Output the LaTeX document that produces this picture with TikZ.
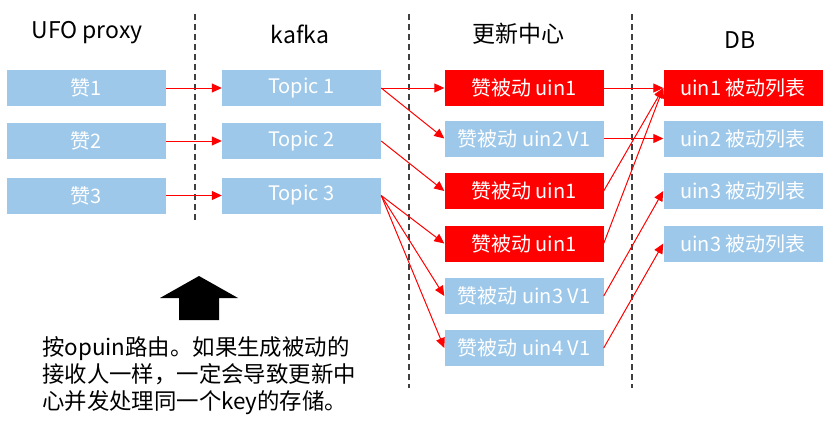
\documentclass[tikz,border=0pt]{standalone}
\usepackage{fontspec}
\setmainfont{Noto Sans CJK SC}
\usetikzlibrary{arrows.meta}
\definecolor{boxblue}{HTML}{9DC8EA}
\definecolor{boxred}{HTML}{FF0000}
\tikzset{
  bx/.style={minimum width=159pt,minimum height=36pt,inner sep=0pt,text=white,font=\fontsize{20}{22}\selectfont},
  bb/.style={bx,fill=boxblue},
  br/.style={bx,fill=boxred},
  hdr/.style={font=\fontsize{23}{26}\selectfont,text=black},
  conn/.style={draw=red,line width=1pt,-{Triangle[length=10pt,width=9pt]}},
  sep/.style={draw=black!75,line width=1.1pt,dash pattern=on 6pt off 4pt}
}
\begin{document}
\begin{tikzpicture}[x=1pt,y=-1pt]
\useasboundingbox (0,0) rectangle (832,428);
% separators
\draw[sep] (195,14) -- (195,222);
\draw[sep] (409,14) -- (409,388);
\draw[sep] (632,14) -- (632,388);
% headers
\node[hdr] (h1) at (87,33) {UFO proxy};
\node[hdr] (h2) at (300,34) {kafka};
\node[hdr] (h3) at (518,34) {更新中心};
\node[hdr] (h4) at (740,40) {DB};
% column 1
\node[bb] (z1) at (86.5,88) {赞1};
\node[bb] (z2) at (86.5,141) {赞2};
\node[bb] (z3) at (86.5,195.5) {赞3};
% column 2
\node[bb] (t1) at (301.5,88) {Topic 1};
\node[bb] (t2) at (301.5,141) {Topic 2};
\node[bb] (t3) at (301.5,195.5) {Topic 3};
% column 3
\node[br] (c1) at (524,88) {赞被动 uin1};
\node[bb] (c2) at (524,138.5) {赞被动 uin2 V1};
\node[br] (c3) at (524,191) {赞被动 uin1};
\node[br] (c4) at (524,243.5) {赞被动 uin1};
\node[bb] (c5) at (524,296) {赞被动 uin3 V1};
\node[bb] (c6) at (524,348) {赞被动 uin4 V1};
% column 4
\node[br] (d1) at (743,88) {uin1 被动列表};
\node[bb] (d2) at (743,138.5) {uin2 被动列表};
\node[bb] (d3) at (743,191) {uin3 被动列表};
\node[bb] (d4) at (743,243.5) {uin3 被动列表};
% connectors
\draw[conn] (z1.east) -- (t1.west);
\draw[conn] (z2.east) -- (t2.west);
\draw[conn] (z3.east) -- (t3.west);
\draw[conn] (t1.east) -- (c1.west);
\draw[conn] (t1.east) -- (c2.west);
\draw[conn] (t2.east) -- (c3.west);
\draw[conn] (t3.east) -- (c4.west);
\draw[conn] (t3.east) -- (c5.west);
\draw[conn] (t3.east) -- (c6.west);
\draw[conn] (c1.east) -- (d1.west);
\draw[conn] (c2.east) -- (d2.west);
\draw[conn] (c3.east) -- (d1.west);
\draw[conn] (c4.east) -- (d1.west);
\draw[conn] (c5.east) -- (d3.west);
\draw[conn] (c6.east) -- (d4.west);
% block arrow
\fill[black] (199,276) -- (238,298) -- (219,298) -- (219,320) -- (179,320) -- (179,298) -- (160,298) -- cycle;
% note
\node[anchor=north west,align=left,inner sep=0pt,font=\fontsize{22.4}{27}\selectfont] (note) at (42,336)
 {按opuin路由。如果生成被动的\\接收人一样，一定会导致更新中\\心并发处理同一个key的存储。};
\end{tikzpicture}
\end{document}
